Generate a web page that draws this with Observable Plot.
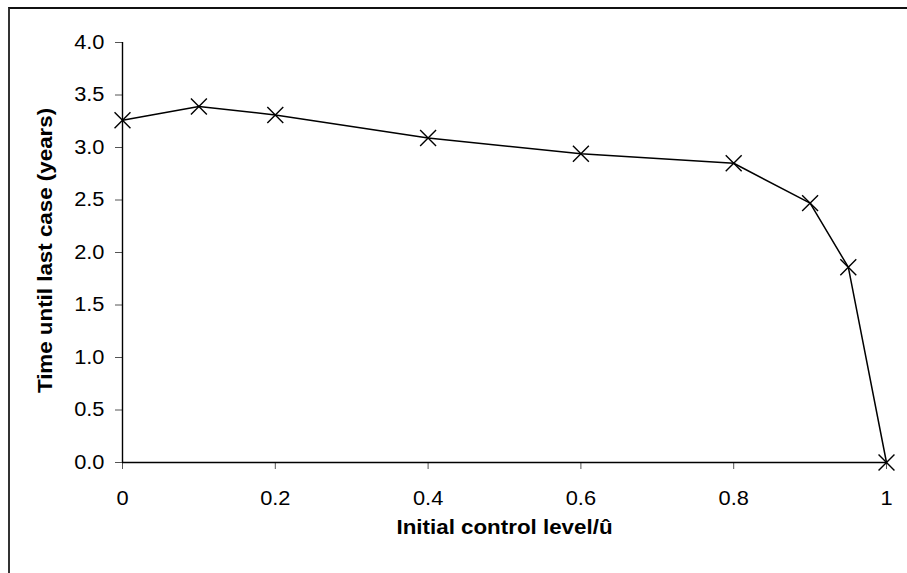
<!DOCTYPE html>
<html>
<head>
<meta charset="utf-8">
<script src="https://cdn.jsdelivr.net/npm/d3@7"></script>
<script src="https://cdn.jsdelivr.net/npm/@observablehq/plot@0.6"></script>
<style>
  html, body { margin: 0; padding: 0; background: #fff; }
  #wrap { position: relative; width: 907px; height: 573px; overflow: hidden; }
  #border { position: absolute; left: 8px; top: 7px; width: 1000px; height: 1000px;
            border-left: 2px solid #333; border-top: 2px solid #111; box-sizing: border-box; }
  #chart { position: absolute; left: 0; top: 0; }
</style>
</head>
<body>
<div id="wrap"><div id="border"></div><div id="chart"></div></div>
<script>
const controlLevel = [0, 0.1, 0.2, 0.4, 0.6, 0.8, 0.9, 0.95, 1];
const timeUntilLast = [3.26, 3.39, 3.31, 3.09, 2.94, 2.85, 2.47, 1.86, 0.0];
const xTicks = [0, 0.2, 0.4, 0.6, 0.8, 1];
const yTicks = [0, 0.5, 1, 1.5, 2, 2.5, 3, 3.5, 4];
const xLabel = "Initial control level/û";
const yLabel = "Time until last case (years)";

const data = controlLevel.map((x, i) => ({x, y: timeUntilLast[i]}));

const chart = Plot.plot({
  width: 907,
  height: 573,
  marginLeft: 122,
  marginRight: 21,
  marginTop: 42,
  marginBottom: 111,
  style: {fontFamily: "'Liberation Sans', Arial, sans-serif", fontSize: "20px", background: "transparent", color: "#000"},
  x: {domain: [0, 1]},
  y: {domain: [0, 4]},
  marks: [
    Plot.axisY({ticks: yTicks, tickFormat: d => d.toFixed(1), tickSize: 7, tickPadding: 11, stroke: "#555", label: null, fontSize: 20}),
    Plot.axisX({ticks: xTicks, tickFormat: d => String(d), tickSize: 7, tickPadding: 21, stroke: "#555", label: null, fontSize: 20}),
    Plot.ruleX([0], {stroke: "#000", strokeWidth: 1.4}),
    Plot.ruleY([0], {stroke: "#000", strokeWidth: 1.4}),
    Plot.line(data, {x: "x", y: "y", stroke: "#000", strokeWidth: 1.5}),
    Plot.dot(data, {x: "x", y: "y", symbol: "times", r: 7.3, stroke: "#000", strokeWidth: 1.4}),
    Plot.text([yLabel], {frameAnchor: "left", textAnchor: "middle", dx: -77, dy: -2, rotate: -90, fontWeight: "bold", fontSize: 20.5, fill: "#000"}),
    Plot.text([xLabel], {frameAnchor: "bottom", textAnchor: "middle", dy: 71, fontWeight: "bold", fontSize: 20.5, fill: "#000"})
  ]
});
document.getElementById("chart").appendChild(chart);
// horizontal stretch of the lettering, as in the reference
chart.querySelectorAll("text").forEach(t => {
  const len = t.getComputedTextLength();
  if (len > 0) {
    t.setAttribute("textLength", (len * 1.09).toFixed(2));
    t.setAttribute("lengthAdjust", "spacingAndGlyphs");
  }
});
</script>
</body>
</html>
